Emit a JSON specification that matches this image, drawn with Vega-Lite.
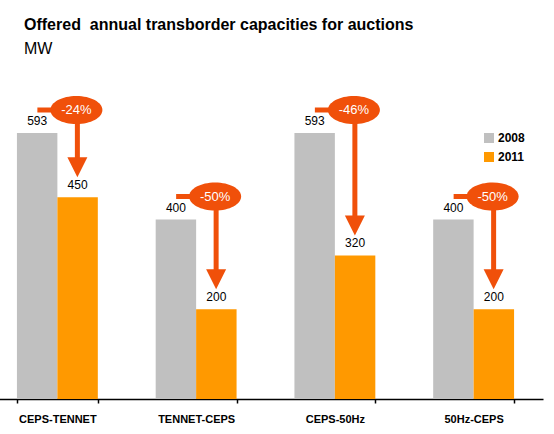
{
  "$schema": "https://vega.github.io/schema/vega-lite/v6.json",
  "autosize": "none",
  "width": 555,
  "height": 314,
  "padding": {"left": -12, "top": 85, "right": 11, "bottom": 35},
  "background": "white",
  "config": {
    "font": "Liberation Sans",
    "view": {"stroke": null}
  },
  "title": {
    "text": "Offered\u00a0 annual transborder capacities for auctions",
    "subtitle": "MW",
    "anchor": "start",
    "frame": "group",
    "dx": 36,
    "offset": 28,
    "font": "Liberation Sans",
    "fontSize": 16,
    "fontWeight": "bold",
    "color": "#000000",
    "subtitleFont": "Liberation Sans",
    "subtitleFontSize": 16,
    "subtitleColor": "#000000",
    "subtitlePadding": 8
  },
  "datasets": {
    "bars": [
      {"pair": "CEPS-TENNET", "year": "2008", "value": 593},
      {"pair": "CEPS-TENNET", "year": "2011", "value": 450},
      {"pair": "TENNET-CEPS", "year": "2008", "value": 400},
      {"pair": "TENNET-CEPS", "year": "2011", "value": 200},
      {"pair": "CEPS-50Hz", "year": "2008", "value": 593},
      {"pair": "CEPS-50Hz", "year": "2011", "value": 320},
      {"pair": "50Hz-CEPS", "year": "2008", "value": 400},
      {"pair": "50Hz-CEPS", "year": "2011", "value": 200}
    ],
    "arrows": [
      {"pair": "CEPS-TENNET", "from": 593, "to": 450, "change": "-24%"},
      {"pair": "TENNET-CEPS", "from": 400, "to": 200, "change": "-50%"},
      {"pair": "CEPS-50Hz", "from": 593, "to": 320, "change": "-46%"},
      {"pair": "50Hz-CEPS", "from": 400, "to": 200, "change": "-50%"}
    ]
  },
  "encoding": {
    "x": {
      "field": "pair",
      "type": "nominal",
      "sort": ["CEPS-TENNET", "TENNET-CEPS", "CEPS-50Hz", "50Hz-CEPS"],
      "scale": {"paddingInner": 0.417, "paddingOuter": 0.2085},
      "axis": {
        "title": null,
        "labelAngle": 0,
        "tickBand": "extent",
        "domainColor": "#000000",
        "domainWidth": 1.5,
        "tickColor": "#000000",
        "tickWidth": 1.5,
        "tickSize": 4,
        "labelFont": "Liberation Sans",
        "labelFontSize": 11,
        "labelFontWeight": "bold",
        "labelColor": "#000000",
        "labelPadding": 10
      }
    }
  },
  "layer": [
    {
      "data": {"name": "bars"},
      "mark": {"type": "bar"},
      "encoding": {
        "xOffset": {"field": "year", "type": "nominal", "scale": {"paddingInner": 0, "paddingOuter": 0}},
        "y": {"field": "value", "type": "quantitative", "scale": {"domain": [0, 700]}, "axis": null},
        "color": {
          "field": "year",
          "type": "nominal",
          "scale": {"domain": ["2008", "2011"], "range": ["#C0C0C0", "#FF9900"]},
          "legend": {
            "title": null,
            "orient": "none",
            "legendX": 495,
            "legendY": 47,
            "padding": 0,
            "symbolType": "square",
            "symbolSize": 100,
            "symbolStrokeWidth": 0,
            "labelFont": "Liberation Sans",
            "labelFontSize": 12,
            "labelFontWeight": "bold",
            "labelColor": "#000000",
            "labelOffset": 3,
            "rowPadding": 7
          }
        }
      }
    },
    {
      "data": {"name": "bars"},
      "mark": {"type": "text", "baseline": "bottom", "dy": -5, "fontSize": 12, "color": "#000000", "font": "Liberation Sans"},
      "encoding": {
        "xOffset": {"field": "year", "type": "nominal"},
        "y": {"field": "value", "type": "quantitative"},
        "text": {"field": "value", "type": "quantitative"}
      }
    },
    {
      "data": {"name": "arrows"},
      "mark": {"type": "rule", "color": "#F0500A", "strokeWidth": 5, "xOffset": -20, "x2Offset": 20, "yOffset": -23},
      "encoding": {
        "x2": {"field": "pair"},
        "y": {"field": "from", "type": "quantitative"}
      }
    },
    {
      "data": {"name": "arrows"},
      "mark": {"type": "rule", "color": "#F0500A", "strokeWidth": 5, "xOffset": 20, "yOffset": -23, "y2Offset": -38},
      "encoding": {
        "y": {"field": "from", "type": "quantitative"},
        "y2": {"field": "to"}
      }
    },
    {
      "data": {"name": "arrows"},
      "mark": {"type": "point", "filled": true, "opacity": 1, "color": "#F0500A", "shape": "M-1,-1L1,-1L0,1Z", "size": 400, "xOffset": 20, "yOffset": -30},
      "encoding": {
        "y": {"field": "to", "type": "quantitative"}
      }
    },
    {
      "data": {"name": "arrows"},
      "mark": {"type": "point", "filled": true, "opacity": 1, "color": "#F0500A", "shape": "M-1,0A1,0.54,0,1,0,1,0A1,0.54,0,1,0,-1,0Z", "size": 2704, "xOffset": 19, "yOffset": -23},
      "encoding": {
        "y": {"field": "from", "type": "quantitative"}
      }
    },
    {
      "data": {"name": "arrows"},
      "mark": {"type": "text", "color": "#FFFFFF", "fontSize": 13, "baseline": "middle", "align": "center", "font": "Liberation Sans", "xOffset": 19, "yOffset": -23},
      "encoding": {
        "y": {"field": "from", "type": "quantitative"},
        "text": {"field": "change", "type": "nominal"}
      }
    }
  ]
}
